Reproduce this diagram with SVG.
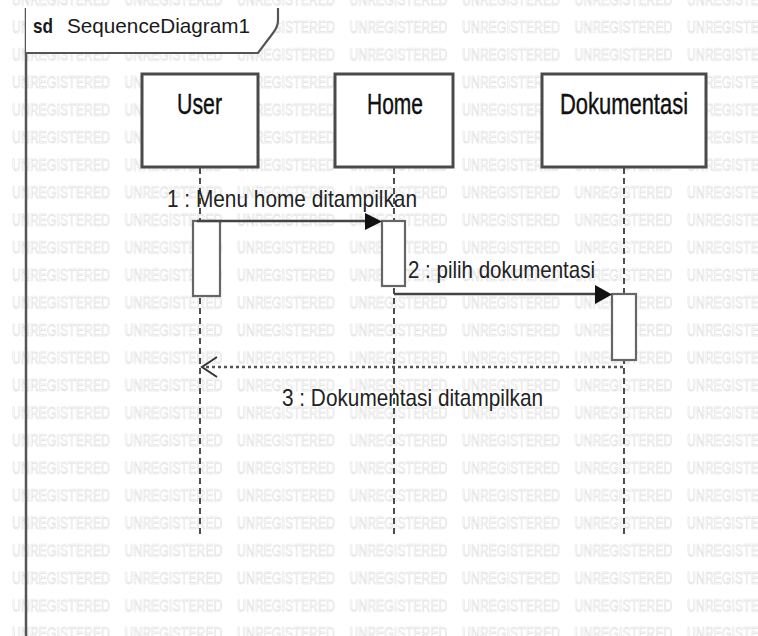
<svg xmlns="http://www.w3.org/2000/svg" width="758" height="636" viewBox="0 0 758 636">
  <defs>
    <style>
      .wm { font-family: "Liberation Sans", Arial, sans-serif; font-size: 17px; fill: none; stroke: #cfcfcf; stroke-width: 0.5; }
      .box { fill: #ffffff; stroke: #4a4a4a; stroke-width: 3; }
      .act { fill: #ffffff; stroke: #666666; stroke-width: 2.2; }
      .life { stroke: #222222; stroke-width: 1.6; stroke-dasharray: 6 4; fill: none; }
      .name { font-family: "Liberation Sans", Arial, sans-serif; font-size: 30px; fill: #111111; stroke: #111111; stroke-width: 0.4; }
      .lbl { font-family: "Liberation Sans", Arial, sans-serif; font-size: 24px; fill: #222222; }
      .msg { stroke: #444444; stroke-width: 2.5; fill: none; }
      .ret { stroke: #555555; stroke-width: 2.5; stroke-dasharray: 3 3; fill: none; }
      .head { fill: #111111; }
      .open { stroke: #333333; stroke-width: 2; fill: none; }
    </style>
    <pattern id="wmp" patternUnits="userSpaceOnUse" x="12" y="13.2" width="112.5" height="27.55">
      <text class="wm" x="0" y="20" textLength="98" lengthAdjust="spacingAndGlyphs">UNREGISTERED</text>
    </pattern>
  </defs>

  <rect x="0" y="0" width="758" height="636" fill="#ffffff"/>
  <rect x="0" y="0" width="758" height="636" fill="url(#wmp)"/>

  <g id="frame">
    <path d="M26,8 L26,636" stroke="#555555" stroke-width="2.5" fill="none"/>
    <path d="M26,8 L278,8 L278,20 Q278,27 273,33 L258,53 L26,53 Z" fill="#ffffff" stroke="none"/>
    <path d="M26,53 L258,53 L273,33 Q278,27 278,20 L278,8" stroke="#555555" stroke-width="2.2" fill="none"/>
    <text x="33" y="33" font-family="'Liberation Sans', Arial, sans-serif" font-size="21" font-weight="bold" fill="#1a1a1a" textLength="20" lengthAdjust="spacingAndGlyphs">sd</text>
    <text x="67" y="33" font-family="'Liberation Sans', Arial, sans-serif" font-size="21" fill="#1a1a1a" textLength="183" lengthAdjust="spacingAndGlyphs">SequenceDiagram1</text>
  </g>

  <g id="lifelines">
    <line class="life" x1="200" y1="168" x2="200" y2="535"/>
    <line class="life" x1="394" y1="168" x2="394" y2="535"/>
    <line class="life" x1="624" y1="168" x2="624" y2="535"/>
  </g>

  <g id="user">
    <rect class="box" x="142" y="74" width="116" height="93"/>
    <text class="name" x="177" y="114" textLength="45" lengthAdjust="spacingAndGlyphs">User</text>
  </g>
  <g id="home">
    <rect class="box" x="335" y="74" width="118" height="93"/>
    <text class="name" x="367" y="114" textLength="56" lengthAdjust="spacingAndGlyphs">Home</text>
  </g>
  <g id="dokumentasi">
    <rect class="box" x="542" y="74" width="164" height="93"/>
    <text class="name" x="560" y="114" textLength="128" lengthAdjust="spacingAndGlyphs">Dokumentasi</text>
  </g>

  <g id="activations">
    <rect class="act" x="193" y="221" width="27" height="75"/>
    <rect class="act" x="382" y="221" width="23" height="65"/>
    <rect class="act" x="612" y="294" width="24" height="66"/>
  </g>

  <g id="connectors">
    <line class="msg" x1="197" y1="221" x2="366" y2="221"/>
    <polygon class="head" points="365,213 382,221.5 365,230"/>
    <text class="lbl" x="167" y="207" textLength="250" lengthAdjust="spacingAndGlyphs">1 : Menu home ditampilkan</text>

    <line class="msg" x1="394" y1="294" x2="596" y2="294"/>
    <polygon class="head" points="595,285 612,294.5 595,304"/>
    <text class="lbl" x="408" y="278" textLength="187" lengthAdjust="spacingAndGlyphs">2 : pilih dokumentasi</text>

    <line class="ret" x1="623" y1="367" x2="204" y2="367"/>
    <polyline class="open" points="217,357 202,367 217,377"/>
    <text class="lbl" x="282" y="406" textLength="261" lengthAdjust="spacingAndGlyphs">3 : Dokumentasi ditampilkan</text>
  </g>
</svg>
